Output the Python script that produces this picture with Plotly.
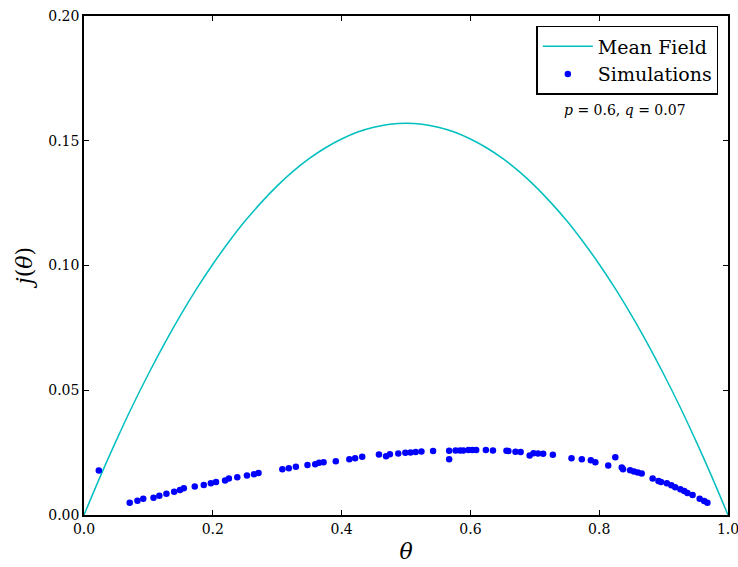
import plotly.graph_objects as go

# Mean-field curve
mf_theta = [0.0, 0.025, 0.05, 0.075, 0.1, 0.125, 0.15, 0.175, 0.2, 0.225, 0.25, 0.275, 0.3,
            0.325, 0.35, 0.375, 0.4, 0.425, 0.45, 0.475, 0.5, 0.525, 0.55, 0.575, 0.6,
            0.625, 0.65, 0.675, 0.7, 0.725, 0.75, 0.775, 0.8, 0.825, 0.85, 0.875, 0.9,
            0.925, 0.95, 0.975, 1.0]
mf_j = [0.0, 0.0153, 0.0298, 0.0436, 0.0565, 0.0687, 0.0801, 0.0907, 0.1005, 0.1095, 0.1178,
        0.1252, 0.1319, 0.1378, 0.1429, 0.1472, 0.1507, 0.1535, 0.1554, 0.1566, 0.157,
        0.1566, 0.1554, 0.1535, 0.1507, 0.1472, 0.1429, 0.1378, 0.1319, 0.1252, 0.1178,
        0.1095, 0.1005, 0.0907, 0.0801, 0.0687, 0.0565, 0.0436, 0.0298, 0.0153, 0.0]

# Simulation points
sim_theta = [0.023, 0.071, 0.083, 0.092, 0.108, 0.117, 0.128, 0.140, 0.149, 0.155, 0.172,
             0.186, 0.197, 0.205, 0.219, 0.225, 0.238, 0.253, 0.264, 0.271, 0.308, 0.318,
             0.329, 0.347, 0.359, 0.365, 0.372, 0.391, 0.412, 0.421, 0.432, 0.458, 0.469,
             0.475, 0.488, 0.499, 0.507, 0.515, 0.524, 0.542, 0.567, 0.567, 0.577, 0.584,
             0.589, 0.597, 0.603, 0.609, 0.624, 0.635, 0.656, 0.659, 0.670, 0.678, 0.692,
             0.698, 0.705, 0.713, 0.728, 0.757, 0.773, 0.787, 0.794, 0.814, 0.825, 0.835,
             0.837, 0.848, 0.854, 0.860, 0.866, 0.883, 0.892, 0.896, 0.905, 0.912, 0.918,
             0.926, 0.932, 0.937, 0.945, 0.956, 0.963, 0.968]
sim_j = [0.0178, 0.0049, 0.0057, 0.0065, 0.0069, 0.0077, 0.0085, 0.0093, 0.0100, 0.0107, 0.0114,
         0.0120, 0.0127, 0.0132, 0.0138, 0.0146, 0.0151, 0.0158, 0.0163, 0.0168, 0.0183, 0.0187,
         0.0193, 0.0200, 0.0203, 0.0209, 0.0211, 0.0215, 0.0223, 0.0227, 0.0233, 0.0242, 0.0235,
         0.0243, 0.0246, 0.0249, 0.0251, 0.0253, 0.0255, 0.0257, 0.0258, 0.0223, 0.0259, 0.0259,
         0.0259, 0.0261, 0.0261, 0.0261, 0.0261, 0.0259, 0.0258, 0.0257, 0.0254, 0.0253, 0.0238,
         0.0247, 0.0246, 0.0245, 0.0241, 0.0227, 0.0223, 0.0219, 0.0211, 0.0198, 0.0231, 0.0190,
         0.0183, 0.0179, 0.0174, 0.0170, 0.0166, 0.0146, 0.0136, 0.0132, 0.0127, 0.0119, 0.0111,
         0.0103, 0.0096, 0.0088, 0.0080, 0.0065, 0.0056, 0.0049]

x_ticks = [0.0, 0.2, 0.4, 0.6, 0.8, 1.0]
y_ticks = [0.00, 0.05, 0.10, 0.15, 0.20]

FONT = "'DejaVu Serif', 'Liberation Serif', serif"

fig = go.Figure()
fig.add_trace(go.Scatter(x=mf_theta, y=mf_j, mode="lines", name="Mean Field",
                         line=dict(color="#00BFBF", width=1.5, shape="spline")))
fig.add_trace(go.Scatter(x=sim_theta, y=sim_j, mode="markers", name="Simulations",
                         marker=dict(color="#0000FF", size=6.5, line=dict(width=0))))

axis_common = dict(showline=True, linecolor="black", linewidth=1.5, mirror="allticks",
                   ticks="inside", ticklen=5, tickcolor="black", showgrid=False, zeroline=False,
                   automargin=False, ticklabeloverflow="allow",
                   tickfont=dict(family=FONT, size=14, color="black"))

fig.update_xaxes(range=[0, 1], tickvals=x_ticks, tickformat=".1f",
                 title=dict(text="<i>θ</i>", font=dict(family=FONT, size=22, color="black"), standoff=8),
                 **axis_common)
fig.update_yaxes(range=[0, 0.2], tickvals=y_ticks, tickformat=".2f",
                 title=dict(text="<i>j</i>(<i>θ</i>)", font=dict(family=FONT, size=22, color="black"), standoff=10),
                 **axis_common)

fig.add_annotation(x=0.84, y=0.812, xref="paper", yref="paper", showarrow=False,
                   xanchor="center", yanchor="middle",
                   text="<i>p</i> = 0.6, <i>q</i> = 0.07",
                   font=dict(family=FONT, size=14, color="black"))

fig.update_layout(
    width=738, height=567,
    margin=dict(l=84, r=10, t=16, b=52, autoexpand=False),
    paper_bgcolor="white", plot_bgcolor="white",
    legend=dict(x=0.985, y=0.98, xanchor="right", yanchor="top",
                bordercolor="black", borderwidth=1.5, bgcolor="white",
                font=dict(family=FONT, size=19, color="black"),
                itemwidth=50, tracegroupgap=2),
    showlegend=True,
)

fig.write_html("out.html")
